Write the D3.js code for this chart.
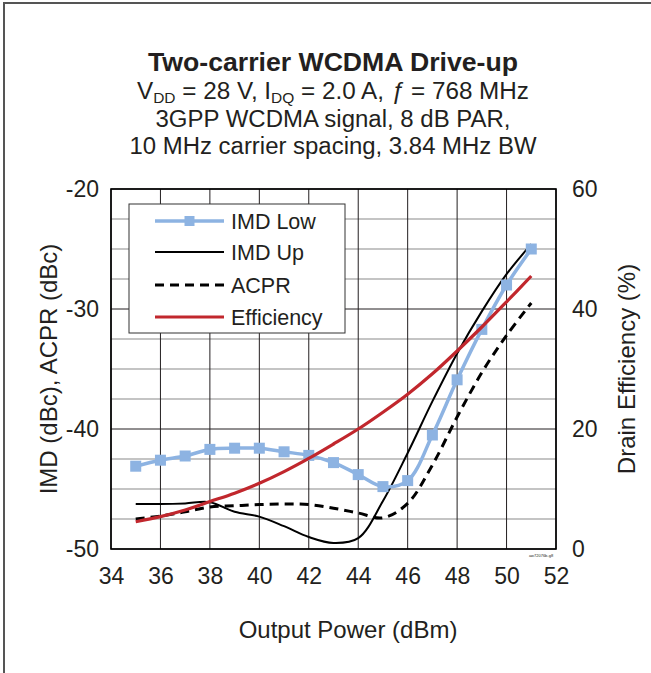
<!DOCTYPE html>
<html>
<head>
<meta charset="utf-8">
<script src="https://cdn.jsdelivr.net/npm/d3@7"></script>
<style>
  html, body { margin: 0; padding: 0; background: #fff; }
  svg text { font-family: "Liberation Sans", Arial, Helvetica, sans-serif; fill: #231f20; }
</style>
</head>
<body>
<svg id="chart" width="651" height="673"></svg>
<script>
// ---- Data ----
const outputPower = [35, 36, 37, 38, 39, 40, 41, 42, 43, 44, 45, 46, 47, 48, 49, 50, 51];
const imdLow  = [-43.1, -42.6, -42.25, -41.7, -41.6, -41.6, -41.9, -42.2, -42.8, -43.8, -44.8, -44.3, -40.5, -35.9, -31.7, -28.0, -25.0];
const imdUp   = [-46.25, -46.25, -46.2, -46.1, -46.9, -47.3, -48.1, -49.0, -49.5, -49.1, -46.0, -42.0, -37.7, -33.7, -30.2, -27.1, -24.6];
const acpr    = [-47.5, -47.25, -46.9, -46.5, -46.4, -46.3, -46.25, -46.3, -46.6, -47.0, -47.4, -46.2, -43.0, -39.0, -35.3, -32.2, -29.5];
const efficiency = [4.55, 5.4, 6.5, 7.9, 9.3, 10.95, 12.9, 15.1, 17.5, 20.0, 22.8, 25.8, 29.2, 33.0, 37.0, 41.2, 45.5];

const xTicks = [34, 36, 38, 40, 42, 44, 46, 48, 50, 52];
const yLeftTicks = [-20, -30, -40, -50];
const yRightTicks = [0, 20, 40, 60];
const yGridMinor = [-22.5, -25, -27.5, -32.5, -35, -37.5, -42.5, -45, -47.5];
const legendNames = ["IMD Low", "IMD Up", "ACPR", "Efficiency"];

// ---- Layout ----
const svg = d3.select("#chart");
const plot = { left: 111, right: 556, top: 189, bottom: 549 };

const x = d3.scaleLinear().domain([34, 52]).range([plot.left, plot.right]);
const yL = d3.scaleLinear().domain([-50, -20]).range([plot.bottom, plot.top]);
const yR = d3.scaleLinear().domain([0, 60]).range([plot.bottom, plot.top]);

// outer frame (extends beyond right/bottom edges)
svg.append("rect")
  .attr("x", 4).attr("y", 3).attr("width", 700).attr("height", 700)
  .attr("fill", "none").attr("stroke", "#555").attr("stroke-width", 2);

// ---- Title ----
const cx = 333;
svg.append("text").attr("x", cx).attr("y", 71).attr("text-anchor", "middle")
  .attr("font-size", 26).attr("font-weight", "bold")
  .attr("textLength", 370).attr("lengthAdjust", "spacingAndGlyphs")
  .text("Two-carrier WCDMA Drive-up");

const t2 = svg.append("text").attr("x", cx).attr("y", 99).attr("text-anchor", "middle")
  .attr("font-size", 23.5).attr("textLength", 392).attr("lengthAdjust", "spacingAndGlyphs");
t2.append("tspan").text("V");
t2.append("tspan").attr("font-size", 15).attr("dy", 4).text("DD");
t2.append("tspan").attr("dy", -4).text(" = 28 V, I");
t2.append("tspan").attr("font-size", 15).attr("dy", 4).text("DQ");
t2.append("tspan").attr("dy", -4).text(" = 2.0 A, ");
t2.append("tspan").attr("font-style", "italic").text("ƒ");
t2.append("tspan").text(" = 768 MHz");

svg.append("text").attr("x", cx).attr("y", 127).attr("text-anchor", "middle")
  .attr("font-size", 23.5).attr("textLength", 355).attr("lengthAdjust", "spacingAndGlyphs")
  .text("3GPP WCDMA signal, 8 dB PAR,");
svg.append("text").attr("x", cx).attr("y", 154).attr("text-anchor", "middle")
  .attr("font-size", 23.5).attr("textLength", 407).attr("lengthAdjust", "spacingAndGlyphs")
  .text("10 MHz carrier spacing, 3.84 MHz BW");

// ---- Grid ----
const grid = svg.append("g");
grid.selectAll("line.minor").data(yGridMinor).join("line")
  .attr("x1", plot.left).attr("x2", plot.right)
  .attr("y1", d => yL(d)).attr("y2", d => yL(d))
  .attr("stroke", "#c4c4c4").attr("stroke-width", 2);
grid.selectAll("line.major").data(yLeftTicks).join("line")
  .attr("x1", plot.left).attr("x2", plot.right)
  .attr("y1", d => yL(d)).attr("y2", d => yL(d))
  .attr("stroke", "#231f20").attr("stroke-width", 1);
grid.selectAll("line.v").data(xTicks).join("line")
  .attr("y1", plot.top).attr("y2", plot.bottom)
  .attr("x1", d => x(d)).attr("x2", d => x(d))
  .attr("stroke", "#231f20").attr("stroke-width", 1);

// plot border
svg.append("rect").attr("x", plot.left).attr("y", plot.top)
  .attr("width", plot.right - plot.left).attr("height", plot.bottom - plot.top)
  .attr("fill", "none").attr("stroke", "#000").attr("stroke-width", 1.6);

// ---- Axes ----
const fs = 23;
const ax = svg.append("g").attr("transform", `translate(0,${plot.bottom})`)
  .call(d3.axisBottom(x).tickValues(xTicks).tickSize(0).tickPadding(19).tickFormat(d3.format("d")));
const ayl = svg.append("g").attr("transform", `translate(${plot.left},0)`)
  .call(d3.axisLeft(yL).tickValues(yLeftTicks).tickSize(0).tickPadding(12).tickFormat(d => String(d)));
const ayr = svg.append("g").attr("transform", `translate(${plot.right},0)`)
  .call(d3.axisRight(yR).tickValues(yRightTicks).tickSize(0).tickPadding(16).tickFormat(d3.format("d")));
[ax, ayl, ayr].forEach(g => {
  g.select(".domain").remove();
  g.selectAll("text").attr("font-size", fs).attr("fill", "#231f20")
    .style("font-family", '"Liberation Sans", Arial, sans-serif');
});

// axis titles
svg.append("text").attr("x", 348).attr("y", 638)
  .attr("text-anchor", "middle").attr("font-size", 24).text("Output Power (dBm)");
svg.append("text").attr("transform", `translate(57,${(plot.top + plot.bottom) / 2}) rotate(-90)`)
  .attr("text-anchor", "middle").attr("font-size", 24).text("IMD (dBc), ACPR (dBc)");
svg.append("text").attr("transform", `translate(635,${(plot.top + plot.bottom) / 2}) rotate(-90)`)
  .attr("text-anchor", "middle").attr("font-size", 24).text("Drain Efficiency (%)");

// tiny figure id
svg.append("text").attr("x", 541).attr("y", 557).attr("text-anchor", "middle")
  .attr("font-size", 4).attr("fill", "#777").text("aw72076b-g8");

// ---- Series ----
const blue = "#8db3e2", red = "#c1272d";
const curve = d3.curveCatmullRom.alpha(0.5);
const lineL = d3.line().x((d, i) => x(outputPower[i])).y(d => yL(d)).curve(curve);
const lineR = d3.line().x((d, i) => x(outputPower[i])).y(d => yR(d)).curve(curve);

const series = svg.append("g");
series.append("path").datum(acpr).attr("d", lineL)
  .attr("fill", "none").attr("stroke", "#000").attr("stroke-width", 3).attr("stroke-dasharray", "9,6");
series.append("path").datum(imdUp).attr("d", lineL)
  .attr("fill", "none").attr("stroke", "#000").attr("stroke-width", 2);
series.append("path").datum(imdLow).attr("d", lineL)
  .attr("fill", "none").attr("stroke", blue).attr("stroke-width", 3.5);
series.selectAll("rect.mk").data(imdLow).join("rect")
  .attr("x", (d, i) => x(outputPower[i]) - 5.5).attr("y", d => yL(d) - 5.5)
  .attr("width", 11).attr("height", 11).attr("fill", blue);
series.append("path").datum(efficiency).attr("d", lineR)
  .attr("fill", "none").attr("stroke", red).attr("stroke-width", 3.2);

// ---- Legend ----
const lg = svg.append("g");
lg.append("rect").attr("x", 129).attr("y", 204).attr("width", 216).attr("height", 129)
  .attr("fill", "#fff").attr("stroke", "#333").attr("stroke-width", 1);
const rowY = [221, 252, 285, 317];
const styles = [
  { stroke: blue, w: 3.5, dash: null, marker: true },
  { stroke: "#000", w: 2, dash: null },
  { stroke: "#000", w: 3, dash: "9,6" },
  { stroke: red, w: 3.2, dash: null }
];
legendNames.forEach((name, i) => {
  const s = styles[i];
  lg.append("line").attr("x1", 155).attr("x2", 224).attr("y1", rowY[i]).attr("y2", rowY[i])
    .attr("stroke", s.stroke).attr("stroke-width", s.w).attr("stroke-dasharray", s.dash);
  if (s.marker) {
    lg.append("rect").attr("x", 189.5 - 5).attr("y", rowY[i] - 5).attr("width", 10).attr("height", 10).attr("fill", blue);
  }
  lg.append("text").attr("x", 231).attr("y", rowY[i] + 8).attr("font-size", 21.5).text(name);
});
</script>
</body>
</html>
